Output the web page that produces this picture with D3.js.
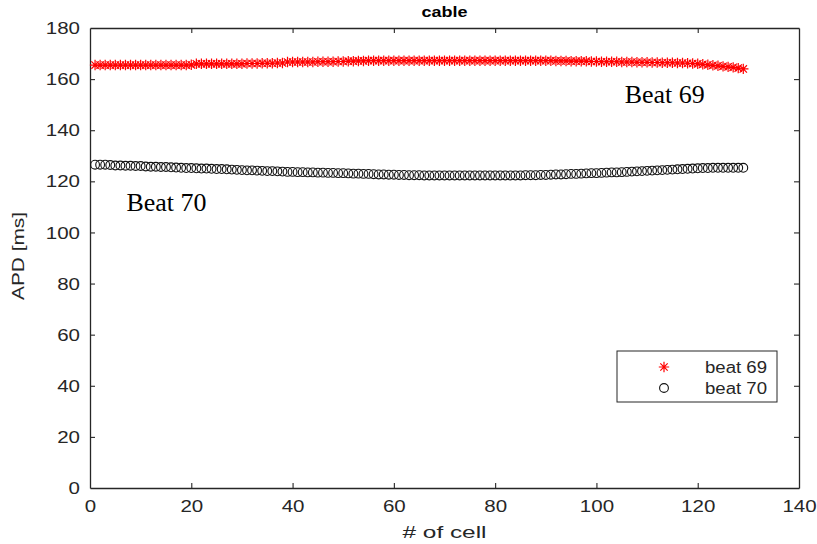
<!DOCTYPE html>
<html>
<head>
<meta charset="utf-8">
<script src="https://cdn.jsdelivr.net/npm/d3@7"></script>
<style>
body{margin:0;background:#fff;}
svg{display:block;font-family:"Liberation Sans",Arial,sans-serif;}
</style>
</head>
<body>
<svg id="chart" width="817" height="544"></svg>
<script>
const title = "cable";
const xLabel = "# of cell";
const yLabel = "APD [ms]";
const xTicks = [0,20,40,60,80,100,120,140];
const yTicks = [0,20,40,60,80,100,120,140,160,180];
const seriesNames = ["beat 69","beat 70"];
const annotations = [{text:"Beat 69", x:105.6, y:150.6},{text:"Beat 70", x:7.2, y:108.4}];

const beat69 = [
165.5,165.5,165.5,165.5,165.5,165.5,165.5,165.5,165.5,165.5,
165.5,165.5,165.5,165.5,165.5,165.5,165.5,165.5,165.5,165.6,
166.0,166.0,166.0,166.0,166.0,166.0,166.0,166.0,166.0,166.0,
166.1,166.1,166.1,166.2,166.2,166.2,166.3,166.3,166.7,166.7,
166.7,166.7,166.7,166.7,166.8,166.8,166.8,166.8,166.9,166.9,
167.0,167.0,167.1,167.1,167.2,167.2,167.2,167.2,167.2,167.2,
167.2,167.2,167.2,167.2,167.2,167.2,167.2,167.2,167.2,167.2,
167.2,167.2,167.2,167.2,167.2,167.2,167.2,167.2,167.2,167.2,
167.2,167.2,167.2,167.2,167.2,167.2,167.2,167.2,167.2,167.2,
167.2,167.1,167.1,167.1,167.0,167.0,167.0,167.0,166.9,166.9,
166.8,166.8,166.8,166.8,166.7,166.7,166.7,166.6,166.6,166.6,
166.5,166.5,166.4,166.4,166.4,166.3,166.3,166.2,166.1,166.0,
165.8,165.6,165.4,165.2,165.0,164.8,164.6,164.3,164.0
];
const beat70 = [
126.5,126.5,126.5,126.4,126.2,126.2,126.1,126.1,126.0,126.0,
125.8,125.7,125.7,125.6,125.6,125.5,125.4,125.3,125.2,125.2,
125.1,125.0,125.0,124.9,124.8,124.8,124.7,124.6,124.5,124.4,
124.3,124.3,124.2,124.1,124.0,124.0,123.9,123.8,123.7,123.7,
123.6,123.6,123.5,123.5,123.4,123.4,123.3,123.3,123.2,123.2,
123.1,123.0,123.0,122.9,122.9,122.8,122.7,122.7,122.6,122.6,
122.5,122.5,122.4,122.4,122.4,122.3,122.3,122.3,122.3,122.3,
122.3,122.3,122.3,122.3,122.3,122.3,122.3,122.3,122.3,122.3,
122.3,122.3,122.3,122.3,122.3,122.4,122.4,122.4,122.5,122.5,
122.6,122.7,122.7,122.8,122.9,122.9,123.0,123.1,123.2,123.2,
123.3,123.4,123.5,123.5,123.6,123.7,123.8,123.9,124.0,124.1,
124.2,124.3,124.4,124.5,124.6,124.7,124.8,124.9,125.0,125.1,
125.2,125.2,125.3,125.3,125.3,125.3,125.3,125.3,125.3
];
const cells = d3.range(1, beat69.length + 1);

const svg = d3.select("#chart");
const m = {l:90, t:28, r:799, b:488};
const x = d3.scaleLinear().domain([0,140]).range([m.l, m.r]);
const y = d3.scaleLinear().domain([0,180]).range([m.b, m.t]);
const axisColor = "#262626";
const fontPx = 16;
const digitW = 11.4;

// title
svg.append("text").attr("x",(m.l+m.r)/2).attr("y",17).attr("text-anchor","middle")
  .attr("font-size","15px").attr("font-weight","bold").attr("fill","#000")
  .attr("textLength",46).attr("lengthAdjust","spacingAndGlyphs").text(title);

// axes with inward ticks
const tickLen = 5;
const gx = svg.append("g").attr("transform",`translate(0,${m.b})`)
  .call(d3.axisBottom(x).tickValues(xTicks).tickSizeInner(-tickLen).tickSizeOuter(0).tickPadding(13));
const gxTop = svg.append("g").attr("transform",`translate(0,${m.t})`)
  .call(d3.axisTop(x).tickValues(xTicks).tickSizeInner(-tickLen).tickSizeOuter(0).tickFormat(""));
const gy = svg.append("g").attr("transform",`translate(${m.l},0)`)
  .call(d3.axisLeft(y).tickValues(yTicks).tickSizeInner(-tickLen).tickSizeOuter(0).tickPadding(10));
const gyR = svg.append("g").attr("transform",`translate(${m.r},0)`)
  .call(d3.axisRight(y).tickValues(yTicks).tickSizeInner(-tickLen).tickSizeOuter(0).tickFormat(""));
[gx,gxTop,gy,gyR].forEach(g=>{
  g.select(".domain").attr("stroke",axisColor).attr("stroke-width",1.3);
  g.selectAll(".tick line").attr("stroke",axisColor).attr("stroke-width",1.1);
  g.selectAll(".tick text").attr("fill",axisColor).attr("font-size",fontPx+"px")
   .attr("font-family","'Liberation Sans',Arial,sans-serif")
   .attr("textLength",function(){return this.textContent.length*digitW;})
   .attr("lengthAdjust","spacingAndGlyphs");
});
gx.selectAll(".tick text").attr("dy","0.71em");
gy.selectAll(".tick text").attr("dy","0.35em");
gxTop.selectAll(".tick").filter(d=>d===0||d===140).remove();
gyR.selectAll(".tick").filter(d=>d===0||d===180).remove();
gx.selectAll(".tick line").filter(d=>d===0||d===140).remove();
gy.selectAll(".tick line").filter(d=>d===0||d===180).remove();

// axis labels
svg.append("text").attr("x",(m.l+m.r)/2).attr("y",538).attr("text-anchor","middle")
  .attr("font-size",fontPx+"px").attr("fill",axisColor)
  .attr("textLength",84).attr("lengthAdjust","spacingAndGlyphs").text(xLabel);
svg.append("text").attr("transform",`translate(24,${(m.t+m.b)/2 - 2}) rotate(-90)`)
  .attr("text-anchor","middle").attr("font-size",fontPx+"px").attr("fill",axisColor)
  .attr("textLength",88).attr("lengthAdjust","spacingAndGlyphs").text(yLabel);

// markers
const starSize = 5.2;
function starPath(s){
  const d = s*0.707;
  return `M${-s},0L${s},0M0,${-s}L0,${s}M${-d},${-d}L${d},${d}M${-d},${d}L${d},${-d}`;
}
const plot = svg.append("g");
plot.selectAll("path.s69").data(cells).join("path").attr("class","s69")
  .attr("transform",(d,i)=>`translate(${x(d)},${y(beat69[i])})`)
  .attr("d",starPath(starSize)).attr("stroke","#ff0000").attr("stroke-width",1.2).attr("fill","none");
plot.selectAll("circle.s70").data(cells).join("circle").attr("class","s70")
  .attr("cx",d=>x(d)).attr("cy",(d,i)=>y(beat70[i])).attr("r",4.4)
  .attr("stroke","#111").attr("stroke-width",1.1).attr("fill","none");

// annotations
annotations.forEach(a=>{
  svg.append("text").attr("x",x(a.x)).attr("y",y(a.y)).attr("font-family","'Liberation Serif','Times New Roman',serif")
    .attr("font-size","25px").attr("fill","#000")
    .attr("textLength",80).attr("lengthAdjust","spacingAndGlyphs").text(a.text);
});

// legend
const lg = svg.append("g");
lg.append("rect").attr("x",617).attr("y",351).attr("width",160).attr("height",51)
  .attr("fill","#fff").attr("stroke",axisColor).attr("stroke-width",1);
lg.append("path").attr("transform","translate(664,367)").attr("d",starPath(starSize))
  .attr("stroke","#ff0000").attr("stroke-width",1.2).attr("fill","none");
lg.append("circle").attr("cx",664).attr("cy",388).attr("r",4.4)
  .attr("stroke","#111").attr("stroke-width",1.1).attr("fill","none");
seriesNames.forEach((n,i)=>{
  lg.append("text").attr("x",705).attr("y",367+i*21).attr("dy","0.35em")
    .attr("font-size",fontPx+"px").attr("fill",axisColor)
    .attr("textLength",62).attr("lengthAdjust","spacingAndGlyphs").text(n);
});
</script>
</body>
</html>
